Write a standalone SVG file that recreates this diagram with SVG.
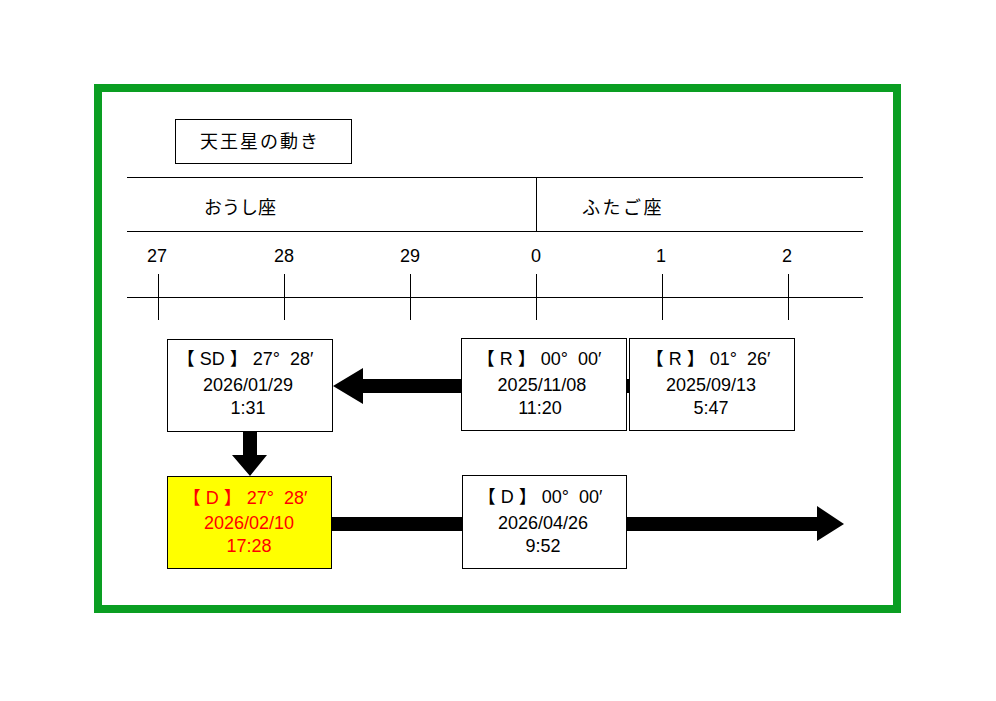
<svg xmlns="http://www.w3.org/2000/svg" width="996" height="701" viewBox="0 0 996 701">
<style>
.t{font-family:"Liberation Sans","Noto Sans CJK JP",sans-serif;font-size:18px;fill:#000;}
.j{font-family:"Noto Sans CJK JP","Liberation Sans",sans-serif;font-size:18px;fill:#000;}
.c{text-anchor:middle;}
.box{fill:#fff;stroke:#000;stroke-width:1;}
.ln{stroke:#000;stroke-width:1;fill:none;}
.arr{fill:#000;stroke:none;}
.red{fill:#ff0000;}
</style>
<rect x="0" y="0" width="996" height="701" fill="#fff"/>
<rect x="98" y="88" width="799" height="521" fill="none" stroke="#0a9e22" stroke-width="8"/>

<g id="scale">
<line class="ln" x1="127" y1="177.5" x2="863" y2="177.5"/>
<line class="ln" x1="127" y1="231.5" x2="863" y2="231.5"/>
<line class="ln" x1="536.5" y1="177" x2="536.5" y2="231"/>
<line class="ln" x1="127" y1="297.5" x2="863" y2="297.5"/>
<line class="ln" x1="158.5" y1="274" x2="158.5" y2="320"/>
<line class="ln" x1="284.5" y1="274" x2="284.5" y2="320"/>
<line class="ln" x1="410.5" y1="274" x2="410.5" y2="320"/>
<line class="ln" x1="536.5" y1="274" x2="536.5" y2="320"/>
<line class="ln" x1="662.5" y1="274" x2="662.5" y2="320"/>
<line class="ln" x1="788.5" y1="274" x2="788.5" y2="320"/>
<text class="t c" x="157" y="262" font-size="17">27</text>
<text class="t c" x="284" y="262" font-size="17">28</text>
<text class="t c" x="410" y="262" font-size="17">29</text>
<text class="t c" x="536" y="262" font-size="17">0</text>
<text class="t c" x="661" y="262" font-size="17">1</text>
<text class="t c" x="787" y="262" font-size="17">2</text>
<text class="j" x="204" y="214" font-size="18">おうし座</text>
<text class="j" x="582" y="214" font-size="18" letter-spacing="2.5">ふたご座</text>
</g>

<g id="title">
<rect class="box" x="175.5" y="119.5" width="176" height="44"/>
<text class="j" x="200" y="148" font-size="18" letter-spacing="2">天王星の動き</text>
</g>

<g id="connectors">
<polygon class="arr" points="333,386 363,368 363,379 700,379 700,393 363,393 363,404"/>
<polygon class="arr" points="243,432 257,432 257,455 267,455 250,476 232,455 243,455"/>
<polygon class="arr" points="331,517 817,517 817,506 844,524 817,541 817,531 331,531"/>
</g>

<g id="node-r0126">
<rect class="box" x="629.5" y="338.5" width="165" height="92"/>
<text class="t c" x="708" y="365" xml:space="preserve">【 R 】 01°  26′</text>
<text class="t c" x="711" y="391">2025/09/13</text>
<text class="t c" x="711" y="414">5:47</text>
</g>

<g id="node-r0000">
<rect class="box" x="461.5" y="338.5" width="165" height="92"/>
<text class="t c" x="539" y="365" xml:space="preserve">【 R 】 00°  00′</text>
<text class="t c" x="542" y="391">2025/11/08</text>
<text class="t c" x="540" y="414">11:20</text>
</g>

<g id="node-sd">
<rect class="box" x="167.5" y="339.5" width="165" height="92"/>
<text class="t c" x="245" y="365" xml:space="preserve">【 SD 】 27°  28′</text>
<text class="t c" x="248" y="391">2026/01/29</text>
<text class="t c" x="248" y="414">1:31</text>
</g>

<g id="node-d2728">
<rect x="167.5" y="476.5" width="164" height="92" fill="#ffff00" stroke="#000" stroke-width="1"/>
<text class="t c red" x="245" y="504" xml:space="preserve">【 D 】 27°  28′</text>
<text class="t c red" x="249" y="529">2026/02/10</text>
<text class="t c red" x="249" y="552">17:28</text>
</g>

<g id="node-d0000">
<rect class="box" x="462.5" y="475.5" width="164" height="93"/>
<text class="t c" x="540" y="503" xml:space="preserve">【 D 】 00°  00′</text>
<text class="t c" x="543" y="529">2026/04/26</text>
<text class="t c" x="543" y="552">9:52</text>
</g>
</svg>
